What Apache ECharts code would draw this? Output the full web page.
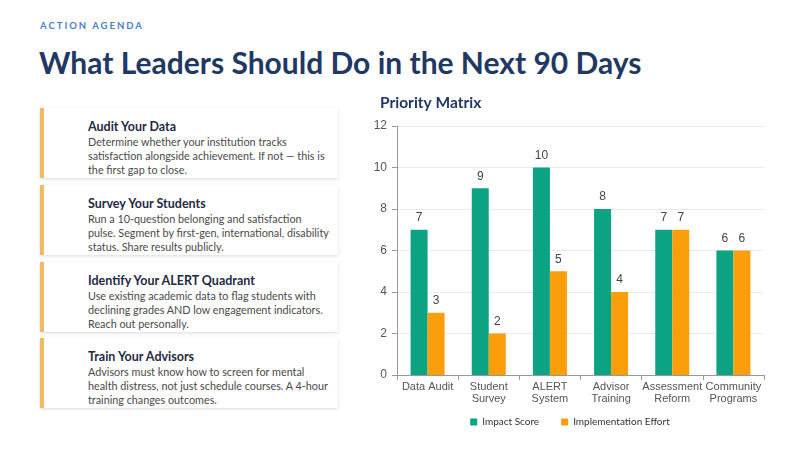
<!DOCTYPE html>
<html>
<head>
<meta charset="utf-8">
<script src="https://cdn.jsdelivr.net/npm/echarts@6/dist/echarts.min.js"></script>
<style>
  html, body { margin: 0; padding: 0; background: #fff; }
  body { width: 800px; height: 450px; position: relative; overflow: hidden; font-family: "Lato", sans-serif; }
  .kicker { position: absolute; left: 40px; top: 20px; font-size: 9.5px; font-weight: bold; letter-spacing: 2px; color: #4a7fc8; }
  .headline { position: absolute; left: 39px; top: 44px; font-size: 30px; font-weight: bold; color: #1f3864; white-space: nowrap; }
  .card { position: absolute; left: 40px; width: 298px; height: 70px; background: #fff; border-left: 4px solid #f0b964; box-shadow: 0 1px 3px rgba(0,0,0,0.15); box-sizing: border-box; padding: 11px 9px 0 44px; }
  .card h3 { margin: 0 0 1px 0; font-size: 12.5px; color: #1f2a44; font-weight: bold; }
  .card p { margin: 0; font-size: 10.8px; line-height: 14px; color: #4a4a4a; }
  #chart { position: absolute; left: 360px; top: 86px; width: 420px; height: 364px; }
</style>
</head>
<body>
<div class="kicker">ACTION AGENDA</div>
<div class="headline">What Leaders Should Do in the Next 90 Days</div>
<div id="cards"></div>
<div id="chart"></div>
<script>
document.addEventListener('DOMContentLoaded', () => {
    const categories = ['Data Audit', 'Student\nSurvey', 'ALERT\nSystem', 'Advisor\nTraining', 'Assessment\nReform', 'Community\nPrograms'];
    const impactScore = [7, 9, 10, 8, 7, 6];
    const implementationEffort = [3, 2, 5, 4, 7, 6];
    const yTicks = [0, 2, 4, 6, 8, 10, 12];

    const cardTitles = ['Audit Your Data', 'Survey Your Students', 'Identify Your ALERT Quadrant', 'Train Your Advisors'];
    const cardBodies = [
        'Determine whether your institution tracks satisfaction alongside achievement. If not \u2014 this is the first gap to close.',
        'Run a 10-question belonging and satisfaction pulse. Segment by first-gen, international, disability status. Share results publicly.',
        'Use existing academic data to flag students with declining grades AND low engagement indicators. Reach out personally.',
        'Advisors must know how to screen for mental health distress, not just schedule courses. A 4-hour training changes outcomes.'
    ];
    const cardTops = [108, 185, 262, 338];

    // Build the action cards
    const cardsEl = document.getElementById('cards');
    cardTitles.forEach((t, i) => {
        const div = document.createElement('div');
        div.className = 'card';
        div.style.top = cardTops[i] + 'px';
        const h = document.createElement('h3');
        h.textContent = t;
        const p = document.createElement('p');
        p.textContent = cardBodies[i];
        div.appendChild(h);
        div.appendChild(p);
        cardsEl.appendChild(div);
    });

    const chart = echarts.init(document.getElementById('chart'));
    const labelStyle = { show: true, position: 'top', fontFamily: 'Liberation Sans', fontSize: 12, color: '#444', distance: 6 };

    chart.setOption({
        animation: false,
        title: {
            text: 'Priority Matrix', left: 15, top: 4,
            textStyle: { fontFamily: 'Lato', fontSize: 15.5, fontWeight: 'bold', color: '#1f3864' }
        },
        legend: {
            bottom: 18, left: 'center',
            icon: 'rect', itemWidth: 7, itemHeight: 7, itemGap: 22,
            textStyle: { fontFamily: 'Lato', fontSize: 10, color: '#333' },
            data: ['Impact Score', 'Implementation Effort']
        },
        grid: { left: 37, right: 16, top: 40, bottom: 75 },
        xAxis: {
            type: 'category',
            data: categories,
            axisLine: { lineStyle: { color: '#999' } },
            axisTick: { show: true, lineStyle: { color: '#999' } },
            axisLabel: { fontFamily: 'Liberation Sans', fontSize: 11, color: '#555', lineHeight: 12, interval: 0, margin: 6 }
        },
        yAxis: {
            type: 'value', min: yTicks[0], max: yTicks[yTicks.length - 1], interval: 2,
            axisLine: { show: true, lineStyle: { color: '#999' } },
            axisTick: { show: true, lineStyle: { color: '#999' } },
            axisLabel: { fontFamily: 'Liberation Sans', fontSize: 12, color: '#555', margin: 10 },
            splitLine: { lineStyle: { color: '#e8e8ee' } }
        },
        series: [
            {
                name: 'Impact Score', type: 'bar', data: impactScore,
                barWidth: 17, barGap: '0%',
                itemStyle: { color: '#0ba381' },
                label: labelStyle
            },
            {
                name: 'Implementation Effort', type: 'bar', data: implementationEffort,
                barWidth: 17,
                itemStyle: { color: '#fa9e0c' },
                label: labelStyle
            }
        ]
    });
});
</script>
</body>
</html>
